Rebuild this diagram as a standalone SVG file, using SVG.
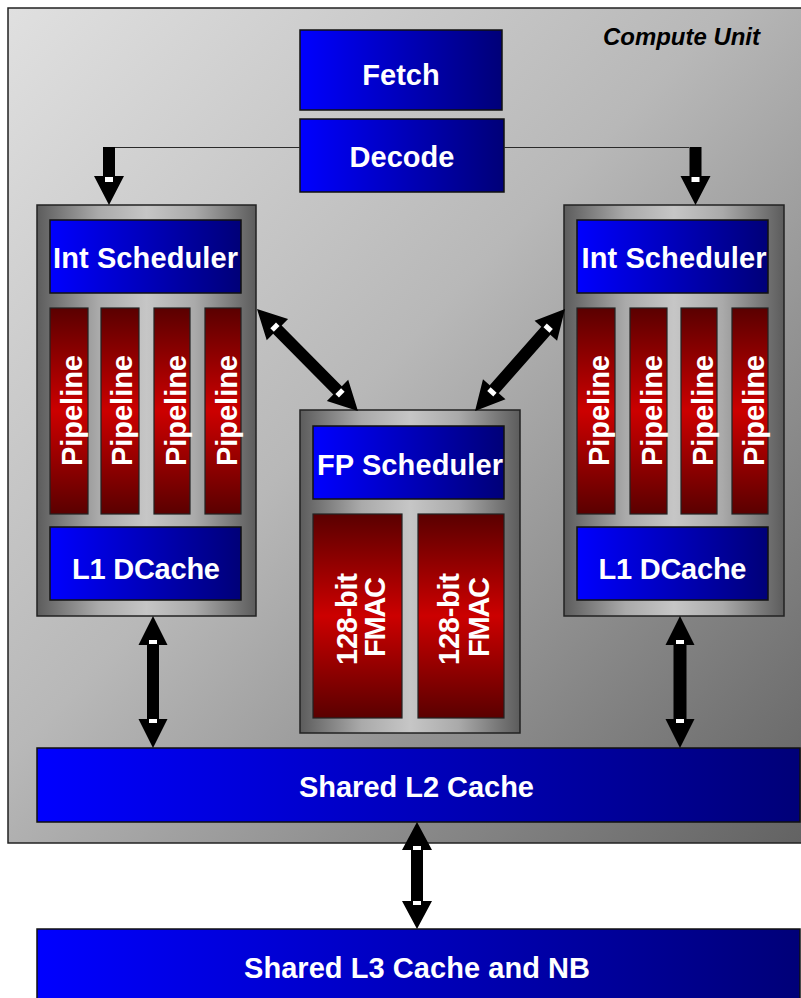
<svg xmlns="http://www.w3.org/2000/svg" width="801" height="998" viewBox="0 0 801 998">
  <defs>
    <linearGradient id="gBg" x1="0" y1="0" x2="1" y2="1">
      <stop offset="0" stop-color="#e0e0e0"/>
      <stop offset="0.45" stop-color="#b8b8b8"/>
      <stop offset="1" stop-color="#626262"/>
    </linearGradient>
    <linearGradient id="gBlue" x1="0" y1="0" x2="1" y2="0">
      <stop offset="0" stop-color="#0000ff"/>
      <stop offset="1" stop-color="#000078"/>
    </linearGradient>
    <linearGradient id="gRed" x1="0" y1="0" x2="0" y2="1">
      <stop offset="0" stop-color="#5a0000"/>
      <stop offset="0.5" stop-color="#cc0000"/>
      <stop offset="1" stop-color="#5a0000"/>
    </linearGradient>
    <linearGradient id="gMetal" x1="0" y1="0" x2="1" y2="0">
      <stop offset="0" stop-color="#5c5c5c"/>
      <stop offset="0.28" stop-color="#aaaaaa"/>
      <stop offset="0.5" stop-color="#c6c6c6"/>
      <stop offset="0.72" stop-color="#aaaaaa"/>
      <stop offset="1" stop-color="#5c5c5c"/>
    </linearGradient>
  </defs>
  <style>
    .bg { fill: url(#gBg); stroke: #222; stroke-width: 1.5; }
    .blue { fill: url(#gBlue); stroke: #111; stroke-width: 1.5; }
    .red { fill: url(#gRed); stroke: #222; stroke-width: 1.2; }
    .metal { fill: url(#gMetal); stroke: #222; stroke-width: 1.5; }
    .lbl { font-family: "Liberation Sans", Arial, sans-serif; font-weight: bold; font-size: 29px; fill: #ffffff; text-anchor: middle; }
    .title { font-family: "Liberation Sans", Arial, sans-serif; font-weight: bold; font-style: italic; font-size: 23px; fill: #000; }
    .arrow { fill: #000; }
    .mark { fill: #ffffff; }
    .thin { stroke: #2a2a2a; stroke-width: 1.2; fill: none; }
  </style>

  <g id="compute-unit">
    <rect class="bg" x="8" y="8" width="800" height="835"/>
    <text class="title" x="603" y="45" textLength="157" lengthAdjust="spacingAndGlyphs">Compute Unit</text>
  </g>

  <g id="fetch">
    <rect class="blue" x="300" y="30" width="202" height="80"/>
    <text class="lbl" x="401" y="85">Fetch</text>
  </g>
  <g id="decode">
    <rect class="blue" x="300" y="119" width="204" height="73"/>
    <text class="lbl" x="402" y="167">Decode</text>
  </g>

  <g id="int-cluster-left">
    <rect class="metal" x="37" y="205" width="219" height="411"/>
    <g id="int-scheduler-left">
      <rect class="blue" x="50" y="220" width="191" height="73"/>
      <text class="lbl" x="145.5" y="268" textLength="185" lengthAdjust="spacing">Int Scheduler</text>
    </g>
    <g id="pipelines-left">
      <rect class="red" x="50" y="308" width="38" height="206"/>
      <rect class="red" x="101" y="308" width="38" height="206"/>
      <rect class="red" x="154" y="308" width="36" height="206"/>
      <rect class="red" x="205" y="308" width="36" height="206"/>
      <text class="lbl" transform="translate(81.5,410.5) rotate(-90)" textLength="111" lengthAdjust="spacing">Pipeline</text>
      <text class="lbl" transform="translate(132,410.5) rotate(-90)" textLength="111" lengthAdjust="spacing">Pipeline</text>
      <text class="lbl" transform="translate(186,410.5) rotate(-90)" textLength="111" lengthAdjust="spacing">Pipeline</text>
      <text class="lbl" transform="translate(237,410.5) rotate(-90)" textLength="111" lengthAdjust="spacing">Pipeline</text>
    </g>
    <g id="l1-dcache-left">
      <rect class="blue" x="50" y="527" width="191" height="73"/>
      <text class="lbl" x="146" y="579" textLength="148" lengthAdjust="spacing">L1 DCache</text>
    </g>
  </g>

  <g id="int-cluster-right">
    <rect class="metal" x="564" y="205" width="220" height="411"/>
    <g id="int-scheduler-right">
      <rect class="blue" x="577" y="220" width="191" height="73"/>
      <text class="lbl" x="674" y="268" textLength="185" lengthAdjust="spacing">Int Scheduler</text>
    </g>
    <g id="pipelines-right">
      <rect class="red" x="577" y="308" width="38" height="206"/>
      <rect class="red" x="630" y="308" width="37" height="206"/>
      <rect class="red" x="681" y="308" width="36" height="206"/>
      <rect class="red" x="732" y="308" width="36" height="206"/>
      <text class="lbl" transform="translate(609,410.5) rotate(-90)" textLength="111" lengthAdjust="spacing">Pipeline</text>
      <text class="lbl" transform="translate(662,410.5) rotate(-90)" textLength="111" lengthAdjust="spacing">Pipeline</text>
      <text class="lbl" transform="translate(713,410.5) rotate(-90)" textLength="111" lengthAdjust="spacing">Pipeline</text>
      <text class="lbl" transform="translate(764,410.5) rotate(-90)" textLength="111" lengthAdjust="spacing">Pipeline</text>
    </g>
    <g id="l1-dcache-right">
      <rect class="blue" x="577" y="527" width="191" height="73"/>
      <text class="lbl" x="672.5" y="579" textLength="148" lengthAdjust="spacing">L1 DCache</text>
    </g>
  </g>

  <g id="fp-cluster">
    <rect class="metal" x="300" y="410" width="220" height="323"/>
    <g id="fp-scheduler">
      <rect class="blue" x="313" y="426" width="191" height="73"/>
      <text class="lbl" x="410" y="475" textLength="186" lengthAdjust="spacing">FP Scheduler</text>
    </g>
    <g id="fmac-1">
      <rect class="red" x="313" y="514" width="89" height="204"/>
      <text class="lbl" transform="translate(357,619) rotate(-90)" textLength="92" lengthAdjust="spacing">128-bit</text>
      <text class="lbl" transform="translate(385,617) rotate(-90)" textLength="80" lengthAdjust="spacing">FMAC</text>
    </g>
    <g id="fmac-2">
      <rect class="red" x="418" y="514" width="86" height="204"/>
      <text class="lbl" transform="translate(459,619) rotate(-90)" textLength="92" lengthAdjust="spacing">128-bit</text>
      <text class="lbl" transform="translate(489,617) rotate(-90)" textLength="80" lengthAdjust="spacing">FMAC</text>
    </g>
  </g>

  <g id="l2-cache">
    <rect class="blue" x="37" y="748" width="763" height="74"/>
    <text class="lbl" x="416.5" y="797" textLength="235" lengthAdjust="spacing">Shared L2 Cache</text>
  </g>

  <g id="l3-cache">
    <rect class="blue" x="37" y="929" width="763" height="75"/>
    <text class="lbl" x="417" y="978" textLength="346" lengthAdjust="spacing">Shared L3 Cache and NB</text>
  </g>

  <g id="connectors">
    <polyline class="thin" points="300,147.5 115,147.5"/>
    <polygon class="arrow" points="103,147 115,147 115,176 124,176 109,205 94,176 103,176"/>
    <rect class="mark" x="105" y="177" width="8" height="5"/>
    <polyline class="thin" points="504,147.5 689,147.5"/>
    <polygon class="arrow" points="689.5,147 701.5,147 701.5,176 710.5,176 695.5,205 680.5,176 689.5,176"/>
    <rect class="mark" x="691.5" y="177" width="8" height="5"/>

    <g transform="translate(257,309) rotate(45.3)">
      <polygon class="arrow" points="0,0 29,-15 29,-6 114.5,-6 114.5,-15 143.5,0 114.5,15 114.5,6 29,6 29,15"/>
      <rect class="mark" x="23" y="-4" width="5" height="8"/>
      <rect class="mark" x="115.5" y="-4" width="5" height="8"/>
    </g>
    <g transform="translate(565,309) rotate(131.4)">
      <polygon class="arrow" points="0,0 29,-15 29,-6 107,-6 107,-15 136,0 107,15 107,6 29,6 29,15"/>
      <rect class="mark" x="23" y="-4" width="5" height="8"/>
      <rect class="mark" x="108" y="-4" width="5" height="8"/>
    </g>

    <polygon class="arrow" points="153,616 167.5,645 159,645 159,719 167.5,719 153,748 138.5,719 147,719 147,645 138.5,645"/>
    <rect class="mark" x="149" y="640" width="8" height="4"/>
    <rect class="mark" x="149" y="719" width="8" height="4"/>
    <polygon class="arrow" points="680,616 694.5,645 686.5,645 686.5,719 694.5,719 680,748 665.5,719 673.5,719 673.5,645 665.5,645"/>
    <rect class="mark" x="676" y="640" width="8" height="4"/>
    <rect class="mark" x="676" y="719" width="8" height="4"/>
    <polygon class="arrow" points="417,822 432,850 423,850 423,901 432,901 417,929 402,901 411,901 411,850 402,850"/>
    <rect class="mark" x="413" y="846" width="8" height="4"/>
    <rect class="mark" x="413" y="901" width="8" height="4"/>
  </g>
</svg>
